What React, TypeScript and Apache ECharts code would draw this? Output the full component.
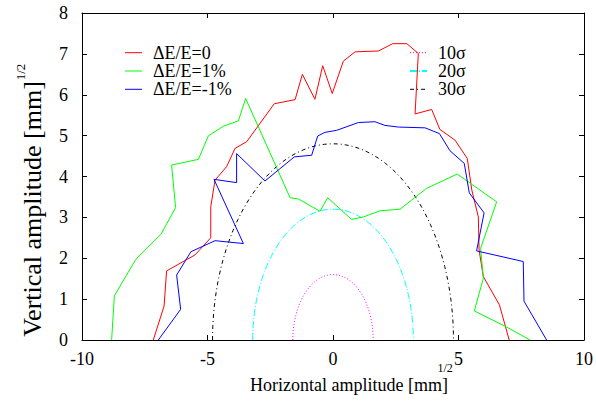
import React, { useEffect, useRef } from "react";
import * as echarts from "echarts";

const FONT = "Liberation Serif, Times New Roman, serif";

const xTicks = [-10, -5, 0, 5, 10];
const yTicks = [0, 1, 2, 3, 4, 5, 6, 7, 8];
const xTitle = "Horizontal amplitude [mm]";
const yTitle = "Vertical amplitude [mm]";
const titleSup = "1/2";

const seriesNames = ["ΔE/E=0", "ΔE/E=1%", "ΔE/E=-1%"];
const seriesColors = ["#ff0000", "#00ff00", "#0000ff"];

const dE0: [number, number][] = [
  [-7.16, 0], [-6.73, 0.83], [-6.63, 1.69], [-5.5, 2.08], [-4.87, 2.5], [-4.87, 3.26],
  [-4.7, 3.91], [-4.24, 4.24], [-3.9, 4.69], [-3.44, 4.85], [-2.34, 5.78], [-1.51, 5.88],
  [-1.22, 6.5], [-0.72, 5.89], [-0.41, 6.71], [-0.03, 6.03], [0.41, 6.82], [0.88, 7.05],
  [1.81, 7.07], [2.38, 7.25], [2.94, 7.25], [3.4, 7.01], [3.27, 5.53], [3.93, 5.64],
  [4.26, 5.15], [4.86, 4.89], [5.35, 4.44], [5.53, 3.67], [5.79, 3.01], [5.82, 2.2],
  [5.99, 1.55], [6.63, 0.86], [7.02, 0],
];

const dEplus1: [number, number][] = [
  [-8.82, 0], [-8.71, 1.08], [-7.86, 1.97], [-6.85, 2.59], [-6.27, 3.24], [-6.43, 4.28],
  [-5.36, 4.42], [-4.97, 4.99], [-4.37, 5.23], [-3.77, 5.36], [-3.48, 5.91], [-1.71, 3.48],
  [-1.38, 3.45], [-0.52, 3.15], [-0.21, 3.48], [0.74, 2.95], [1.21, 3.01], [1.87, 3.16],
  [2.67, 3.2], [3.73, 3.71], [4.95, 4.06], [6.52, 3.38], [5.88, 2.24], [5.99, 1.51],
  [5.63, 0.71], [6.85, 0.34], [7.85, 0],
];

const dEminus1: [number, number][] = [
  [-6.96, 0], [-6.07, 0.75], [-6.23, 1.59], [-5.66, 2.16], [-4.7, 2.43], [-3.57, 2.36],
  [-4.74, 3.93], [-3.84, 3.85], [-3.84, 4.56], [-2.71, 3.89], [-1.54, 4.48], [-0.85, 4.52],
  [-0.61, 4.99], [-0.32, 5.08], [0.15, 5.13], [1.01, 5.32], [1.67, 5.34], [2.07, 5.25],
  [2.6, 5.21], [3.67, 5.19], [4.24, 5.05], [4.66, 4.63], [5.23, 4.32], [5.43, 3.6],
  [6.02, 3.11], [5.72, 2.18], [7.58, 1.92], [7.61, 0.95], [8.51, 0],
];

const sigmaNames = ["10σ", "20σ", "30σ"];
const sigmaRadii = [1.6, 3.2, 4.8];
const sigmaColors = ["#ff00ff", "#00ffff", "#000000"];
const sigmaDash: number[][] = [[1, 2], [7, 2, 1, 2], [4, 3, 1, 3]];

function semicircle(r: number): [number, number][] {
  const pts: [number, number][] = [];
  const n = 90;
  for (let i = 0; i <= n; i++) {
    const t = Math.PI - (Math.PI * i) / n;
    pts.push([r * Math.cos(t), r * Math.sin(t)]);
  }
  return pts;
}

export default function App() {
  const ref = useRef<HTMLDivElement>(null);
  useEffect(() => {
    if (!ref.current) return;
    const chart = echarts.init(ref.current, null, { renderer: "svg" });
    const dataSets = [dE0, dEplus1, dEminus1];

    const series: any[] = dataSets.map((d, i) => ({
      name: seriesNames[i],
      type: "line",
      data: d,
      showSymbol: false,
      symbol: "none",
      lineStyle: { color: seriesColors[i], width: 1 },
      itemStyle: { color: seriesColors[i] },
      z: 3,
    }));
    sigmaRadii.forEach((r, i) => {
      series.push({
        name: sigmaNames[i],
        type: "line",
        data: semicircle(r),
        showSymbol: false,
        symbol: "none",
        lineStyle: { color: sigmaColors[i], width: 1, type: sigmaDash[i] },
        itemStyle: { color: sigmaColors[i] },
        z: 2,
      });
    });

    const g: any[] = [];
    const rowsY = [52.7, 71, 89.3];
    const txt = (text: string, x: number, y: number, fontSize: number) => ({
      type: "text",
      x,
      y,
      style: { text, fontSize, fontFamily: FONT, fill: "#000", verticalAlign: "middle", align: "left" },
    });
    seriesNames.forEach((n, i) => {
      g.push({
        type: "line",
        shape: { x1: 125, y1: rowsY[i], x2: 142, y2: rowsY[i] },
        style: { stroke: seriesColors[i], lineWidth: 1 },
      });
      g.push(txt(n, 153, rowsY[i], 18));
    });
    sigmaNames.forEach((n, i) => {
      g.push({
        type: "line",
        shape: { x1: 410, y1: rowsY[i], x2: 427, y2: rowsY[i] },
        style: { stroke: sigmaColors[i], lineWidth: i === 1 ? 2 : 1, lineDash: sigmaDash[i] },
      });
      g.push(txt(n, 438, rowsY[i], 18));
    });
    // axis titles with superscript
    g.push(txt(xTitle, 250, 385, 18));
    g.push(txt(titleSup, 437.5, 368, 12));
    g.push({
      type: "text",
      x: 32,
      y: 209,
      rotation: Math.PI / 2,
      style: { text: yTitle, fontSize: 26, fontFamily: FONT, fill: "#000", align: "center", verticalAlign: "middle" },
    });
    g.push({
      type: "text",
      x: 20.5,
      y: 72,
      rotation: Math.PI / 2,
      style: { text: titleSup, fontSize: 13, fontFamily: FONT, fill: "#000", align: "center", verticalAlign: "middle" },
    });

    const axisCommon = {
      type: "value",
      splitLine: { show: false },
      axisLine: { show: true, onZero: false, lineStyle: { color: "#000", width: 1 } },
      axisTick: { show: true, inside: true, length: 5, lineStyle: { color: "#000" } },
    };

    chart.setOption({
      animation: false,
      backgroundColor: "#fff",
      grid: { left: 82, right: 12, top: 13, bottom: 68, containLabel: false },
      xAxis: [
        {
          ...axisCommon,
          position: "bottom",
          min: xTicks[0],
          max: xTicks[xTicks.length - 1],
          interval: 5,
          axisLabel: { fontSize: 18, fontFamily: FONT, color: "#000", margin: 10 },
        },
        {
          ...axisCommon,
          position: "top",
          min: xTicks[0],
          max: xTicks[xTicks.length - 1],
          interval: 5,
          axisLabel: { show: false },
        },
      ],
      yAxis: [
        {
          ...axisCommon,
          position: "left",
          min: yTicks[0],
          max: yTicks[yTicks.length - 1],
          interval: 1,
          axisLabel: { fontSize: 18, fontFamily: FONT, color: "#000", margin: 14 },
        },
        {
          ...axisCommon,
          position: "right",
          min: yTicks[0],
          max: yTicks[yTicks.length - 1],
          interval: 1,
          axisLabel: { show: false },
        },
      ],
      series,
      graphic: g,
    });
    return () => chart.dispose();
  }, []);
  return <div ref={ref} style={{ width: 596, height: 408, position: "fixed", left: 0, top: 0 }} />;
}
